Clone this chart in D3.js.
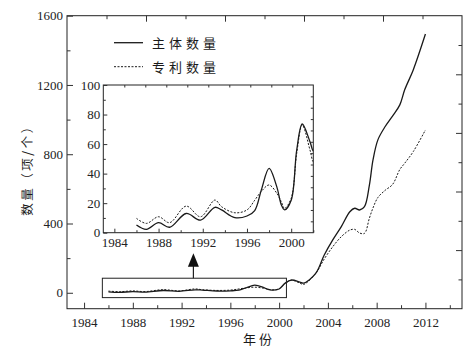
<!DOCTYPE html>
<html><head><meta charset="utf-8">
<script src="https://cdn.jsdelivr.net/npm/d3@7"></script>
<style>
html,body{margin:0;padding:0;background:#fff;}
svg{display:block;}
.domain{display:none;}
.tick line{stroke:#333;stroke-width:1;}
svg text.num{font-family:"Liberation Serif","DejaVu Serif",serif !important;font-size:13px;}
</style></head>
<body>
<script>
// ---- data ----
const years = [1986, 1986.9, 1988, 1989, 1990.5, 1991.8, 1993.1, 1993.7, 1994.9, 1996, 1996.7, 1997.3, 1998, 1998.7, 1999.1, 1999.4, 2000, 2000.5, 2001, 2001.7, 2002, 2003, 2003.7, 2004.4, 2005.1, 2005.8, 2006.2, 2006.6, 2007, 2007.4, 2007.7, 2008.1, 2008.7, 2009.3, 2009.9, 2010.3, 2011, 2012];
const subjectCount = [5.2, 2.3, 6.8, 3.7, 13, 8.5, 17.2, 15.4, 10.2, 11.3, 15, 29, 43.6, 31, 19, 15.5, 22, 56, 73.6, 61.6, 55.5, 112, 218, 305, 382, 468, 488, 478, 497, 620, 767, 883, 960, 1020, 1085, 1172, 1287, 1494];
const patentCount = [9.7, 6.3, 10.8, 6.8, 18, 10.8, 22.1, 17.6, 13.5, 15.4, 22, 28, 32.3, 26.7, 21, 16.5, 23.3, 53.8, 72.9, 56, 48, 112, 195, 266, 324, 362, 366, 345, 343, 430, 490, 550, 592, 625, 712, 748, 815, 940];
const seriesNames = ["主体数量", "专利数量"];
const mainXTicks = [1984, 1988, 1992, 1996, 2000, 2004, 2008, 2012];
const mainYTicks = [0, 400, 800, 1200, 1600];
const insetXTicks = [1984, 1988, 1992, 1996, 2000];
const insetYTicks = [0, 20, 40, 60, 80, 100];
const xTitle = "年份";
const yTitle = "数量（项/个）";
const zoomRange = {x0: 1985.5, x1: 2000.6, y0: -28, y1: 84};

const W = 470, H = 355;
const svg = d3.select("body").append("svg").attr("width", W).attr("height", H);
const ink = "#1a1a1a";
const cjk = "'Noto Sans CJK SC','Noto Sans CJK JP',sans-serif";

function styleAxis(g) {
  g.attr("font-family", null).attr("font-size", null);
  g.selectAll(".tick text").attr("class", "num").attr("fill", "#222");
}

// ---- main scales ----
const M = {l: 67, r: 462, t: 15.7, b: 308.7};
const x = d3.scaleLinear().domain([1982.6, 2015]).range([M.l, M.r]);
const y = d3.scaleLinear().domain([-92, 1600]).range([M.b, M.t]);

function frame(g, a) {
  g.append("rect").attr("x", a.l).attr("y", a.t).attr("width", a.r - a.l).attr("height", a.b - a.t)
    .attr("fill", "none").attr("stroke", "#222").attr("stroke-width", 1);
}

const gMain = svg.append("g");
frame(gMain, M);
// bottom
gMain.append("g").attr("transform", `translate(0,${M.b})`)
  .call(d3.axisBottom(x).tickValues(mainXTicks).tickFormat(d3.format("d")).tickSize(-6).tickPadding(9)).call(styleAxis);
gMain.append("g").attr("transform", `translate(0,${M.b})`)
  .call(d3.axisBottom(x).tickValues(mainXTicks.map(d => d + 2)).tickFormat("").tickSize(-3.5));
// left
gMain.append("g").attr("transform", `translate(${M.l},0)`)
  .call(d3.axisLeft(y).tickValues(mainYTicks).tickFormat(d3.format("d")).tickSize(-6).tickPadding(4)).call(styleAxis);
gMain.append("g").attr("transform", `translate(${M.l},0)`)
  .call(d3.axisLeft(y).tickValues(mainYTicks.slice(0, -1).map(d => d + 200)).tickFormat("").tickSize(-3.5));
// top & right mirror ticks (10 divisions)
const topS = d3.scaleLinear().domain([0, 10]).range([M.l, M.r]);
const rightS = d3.scaleLinear().domain([0, 10]).range([M.b, M.t]);
gMain.append("g").attr("transform", `translate(0,${M.t})`)
  .call(d3.axisTop(topS).tickValues([2, 4, 6, 8]).tickFormat("").tickSize(-6));
gMain.append("g").attr("transform", `translate(0,${M.t})`)
  .call(d3.axisTop(topS).tickValues([1, 3, 5, 7, 9]).tickFormat("").tickSize(-3.5));
gMain.append("g").attr("transform", `translate(${M.r},0)`)
  .call(d3.axisRight(rightS).tickValues([2, 4, 6, 8]).tickFormat("").tickSize(-6));
gMain.append("g").attr("transform", `translate(${M.r},0)`)
  .call(d3.axisRight(rightS).tickValues([1, 3, 5, 7, 9]).tickFormat("").tickSize(-3.5));

const curve = d3.curveCatmullRom.alpha(0.5);
const pts = years.map((yr, i) => ({yr, s: subjectCount[i], p: patentCount[i]}));

const lineS = d3.line().x(d => x(d.yr)).y(d => y(d.s)).curve(curve);
const lineP = d3.line().x(d => x(d.yr)).y(d => y(d.p)).curve(curve);
gMain.append("path").datum(pts).attr("d", lineP).attr("fill", "none").attr("stroke", ink)
  .attr("stroke-width", 1).attr("stroke-dasharray", "2,1.5");
gMain.append("path").datum(pts).attr("d", lineS).attr("fill", "none").attr("stroke", ink).attr("stroke-width", 1.3);

// zoom rectangle
gMain.append("rect").attr("x", x(zoomRange.x0)).attr("y", y(zoomRange.y1))
  .attr("width", x(zoomRange.x1) - x(zoomRange.x0)).attr("height", y(zoomRange.y0) - y(zoomRange.y1))
  .attr("fill", "none").attr("stroke", "#222").attr("stroke-width", 1);

// axis titles
svg.append("text").attr("x", 259).attr("y", 344)
  .attr("font-family", cjk).attr("font-size", 13).attr("fill", ink).attr("letter-spacing", 3)
  .attr("text-anchor", "middle").text(xTitle);
svg.append("text").attr("transform", `translate(32,${167}) rotate(-90)`)
  .attr("font-family", cjk).attr("font-size", 12.5).attr("fill", ink).attr("letter-spacing", 2.5)
  .attr("text-anchor", "middle").text(yTitle);

// legend
const leg = svg.append("g");
[0, 1].forEach(i => {
  const ly = 42.7 + i * 24;
  leg.append("line").attr("x1", 114).attr("x2", 143).attr("y1", ly).attr("y2", ly)
    .attr("stroke", ink).attr("stroke-width", i ? 1 : 1.3).attr("stroke-dasharray", i ? "2,1.5" : null);
  leg.append("text").attr("x", 152).attr("y", ly + 5).attr("font-family", cjk).attr("font-size", 13)
    .attr("letter-spacing", 4).attr("fill", ink).text(seriesNames[i]);
});

// ---- inset ----
const I = {l: 103.3, r: 313.3, t: 85, b: 232.7};
const xi = d3.scaleLinear().domain([1983, 2002]).range([I.l, I.r]);
const yi = d3.scaleLinear().domain([0, 100]).range([I.b, I.t]);
const gIn = svg.append("g");
gIn.append("rect").attr("x", I.l).attr("y", I.t).attr("width", I.r - I.l).attr("height", I.b - I.t).attr("fill", "#fff");
frame(gIn, I);
gIn.append("g").attr("transform", `translate(0,${I.b})`)
  .call(d3.axisBottom(xi).tickValues(insetXTicks).tickFormat(d3.format("d")).tickSize(-4).tickPadding(5)).call(styleAxis);
gIn.append("g").attr("transform", `translate(0,${I.b})`)
  .call(d3.axisBottom(xi).tickValues(insetXTicks.map(d => d + 2)).tickFormat("").tickSize(-2.5));
gIn.append("g").attr("transform", `translate(${I.l},0)`)
  .call(d3.axisLeft(yi).tickValues(insetYTicks).tickFormat(d3.format("d")).tickSize(-4).tickPadding(3)).call(styleAxis);
gIn.append("g").attr("transform", `translate(${I.l},0)`)
  .call(d3.axisLeft(yi).tickValues(insetYTicks.slice(0, -1).map(d => d + 10)).tickFormat("").tickSize(-2.5));
const topI = d3.scaleLinear().domain([0, 10]).range([I.l, I.r]);
const rightI = d3.scaleLinear().domain([0, 13]).range([I.b, I.t]);
gIn.append("g").attr("transform", `translate(0,${I.t})`)
  .call(d3.axisTop(topI).tickValues(d3.range(1, 10)).tickFormat("").tickSize(-2.5));
gIn.append("g").attr("transform", `translate(${I.r},0)`)
  .call(d3.axisRight(rightI).tickValues(d3.range(1, 13)).tickFormat("").tickSize(-2.5));

svg.append("clipPath").attr("id", "ic").append("rect")
  .attr("x", I.l).attr("y", I.t).attr("width", I.r - I.l).attr("height", I.b - I.t);
const inPts = pts.filter(d => d.yr <= 2003);
const lineSi = d3.line().x(d => xi(d.yr)).y(d => yi(d.s)).curve(curve);
const linePi = d3.line().x(d => xi(d.yr)).y(d => yi(d.p)).curve(curve);
const gl = gIn.append("g").attr("clip-path", "url(#ic)");
gl.append("path").datum(inPts).attr("d", linePi).attr("fill", "none").attr("stroke", ink)
  .attr("stroke-width", 1).attr("stroke-dasharray", "2,1.5");
gl.append("path").datum(inPts).attr("d", lineSi).attr("fill", "none").attr("stroke", ink).attr("stroke-width", 1.3);

// arrow from zoom box to inset
const ax = (x(zoomRange.x0) + x(zoomRange.x1)) / 2 - 1;
const aTop = I.b + 20.5, aBot = y(zoomRange.y1);
svg.append("line").attr("x1", ax).attr("x2", ax).attr("y1", aBot).attr("y2", aTop + 12)
  .attr("stroke", "#222").attr("stroke-width", 1.2);
svg.append("path").attr("d", `M${ax},${aTop} L${ax - 5.5},${aTop + 13.5} L${ax + 5.5},${aTop + 13.5} Z`).attr("fill", "#111");
</script>
</body></html>
